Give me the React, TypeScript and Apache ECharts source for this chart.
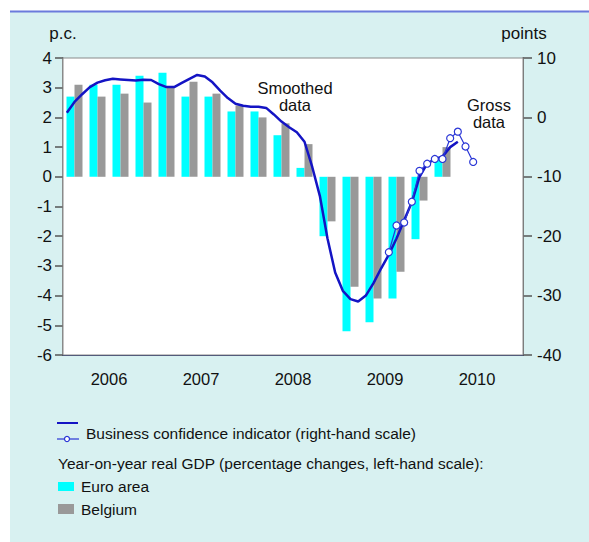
import React, { useEffect, useRef } from "react";
import * as echarts from "echarts";

const years = ["2006", "2007", "2008", "2009", "2010"];
const quarters = [
  "2006Q1", "2006Q2", "2006Q3", "2006Q4",
  "2007Q1", "2007Q2", "2007Q3", "2007Q4",
  "2008Q1", "2008Q2", "2008Q3", "2008Q4",
  "2009Q1", "2009Q2", "2009Q3", "2009Q4",
  "2010Q1", "2010Q2", "2010Q3", "2010Q4",
];
const euroArea = [2.7, 3.1, 3.1, 3.4, 3.5, 2.7, 2.7, 2.2, 2.2, 1.4, 0.3, -2.0, -5.2, -4.9, -4.1, -2.1, 0.6, null, null, null];
const belgium = [3.1, 2.7, 2.8, 2.5, 3.0, 3.2, 2.8, 2.4, 2.0, 1.8, 1.1, -1.5, -3.7, -4.1, -3.2, -0.8, 1.0, null, null, null];

const months: string[] = [];
for (const y of years) for (let m = 1; m <= 12; m++) months.push(y + "-" + String(m).padStart(2, "0"));

// Smoothed business confidence, Jan 2006 .. Apr 2010
const smoothed = [
  0.8, 2.6, 3.9, 5.1, 5.85, 6.25, 6.5, 6.4, 6.3, 6.2, 6.35, 6.3,
  5.6, 5.1, 5.1, 5.8, 6.5, 7.15, 6.9, 5.9, 4.5, 3.25, 2.3, 1.95,
  1.8, 1.8, 1.6, 0.5, -0.7, -1.65, -2.5, -4.1, -8.3, -13.2, -20.4, -26.1,
  -29.2, -30.6, -31.0, -30.0, -27.9, -25.4, -23.1, -20.4, -17.3, -14.3, -10.0, -7.8,
  -7.0, -6.6, -5.0, -4.1,
];
// Gross business confidence, Jul 2009 .. Jun 2010
const grossStart = 42;
const gross = [-22.7, -18.2, -17.7, -14.2, -9.0, -7.8, -7.0, -7.0, -3.5, -2.4, -4.9, -7.5];

const FONT = "'Liberation Sans', Arial, sans-serif";
const TXT = "#111";

export default function App() {
  const ref = useRef<HTMLDivElement>(null);
  useEffect(() => {
    if (!ref.current) return;
    const chart = echarts.init(ref.current, null, { renderer: "svg" });
    const smoothData = months.map((_, i) => (i < smoothed.length ? smoothed[i] : null));
    const grossData = months.map((_, i) =>
      i >= grossStart && i < grossStart + gross.length ? gross[i - grossStart] : null
    );
    const gl = 63, gr = 523, gt = 58, gb = 355;
    chart.setOption({
      animation: false,
      textStyle: { fontFamily: FONT },
      grid: {
        left: gl, right: 589 - gr, top: gt, bottom: 542 - gb,
        show: true, backgroundColor: "#ffffff", borderColor: "#8a8a8a", borderWidth: 1, z: 1,
      },
      xAxis: [
        {
          type: "category", data: years, position: "bottom", boundaryGap: true,
          axisLine: { onZero: false, lineStyle: { color: "#1c2a6a", width: 2 } },
          axisTick: { show: false },
          axisLabel: { color: TXT, fontSize: 16.5, margin: 15, fontFamily: FONT },
          splitLine: { show: true, lineStyle: { color: "#b0b0b0", width: 1.5 } },
        },
        {
          type: "category", data: quarters, position: "bottom",
          axisLine: { onZero: true, onZeroAxisIndex: 0, lineStyle: { color: "#5a5a5a", width: 1.5 } },
          axisTick: { show: false }, axisLabel: { show: false }, splitLine: { show: false },
        },
        {
          type: "category", data: months, show: false, boundaryGap: true,
        },
      ],
      yAxis: [
        {
          type: "value", min: -6, max: 4, interval: 1, position: "left",
          axisLine: { show: true, lineStyle: { color: "#777", width: 1.5 } },
          axisTick: { show: true, length: 8, inside: false, lineStyle: { color: "#555", width: 1.5 } },
          axisLabel: { color: TXT, fontSize: 17, margin: 11, fontFamily: FONT },
          splitLine: { show: false },
          name: "p.c.", nameLocation: "end", nameGap: 16,
          nameTextStyle: { color: TXT, fontSize: 17, align: "center", padding: [0, 0, 0, 0], fontFamily: FONT },
        },
        {
          type: "value", min: -40, max: 10, interval: 10, position: "right",
          axisLine: { show: true, lineStyle: { color: "#555", width: 1.5 } },
          axisTick: { show: true, length: 9, inside: false, lineStyle: { color: "#555", width: 1.5 } },
          axisLabel: { color: TXT, fontSize: 17, margin: 14, fontFamily: FONT },
          splitLine: { show: false },
          name: "points", nameLocation: "end", nameGap: 16,
          nameTextStyle: { color: TXT, fontSize: 17, align: "center", padding: [0, 0, 0, 2], fontFamily: FONT },
        },
      ],
      series: [
        {
          type: "bar", name: "Euro area", data: euroArea, xAxisIndex: 1, yAxisIndex: 0,
          barWidth: 8, barGap: "0%", itemStyle: { color: "#00ffff" }, z: 2,
        },
        {
          type: "bar", name: "Belgium", data: belgium, xAxisIndex: 1, yAxisIndex: 0,
          barWidth: 8, barGap: "0%", itemStyle: { color: "#999999" }, z: 2,
        },
        {
          type: "line", name: "Smoothed", data: smoothData, xAxisIndex: 2, yAxisIndex: 1,
          showSymbol: false, symbol: "none", connectNulls: false,
          lineStyle: { color: "#1414c4", width: 2.5 }, z: 4,
        },
        {
          type: "line", name: "Gross", data: grossData, xAxisIndex: 2, yAxisIndex: 1,
          symbol: "circle", symbolSize: 7, showSymbol: true, showAllSymbol: true,
          itemStyle: { color: "#ffffff", borderColor: "#2a36d6", borderWidth: 1.2 },
          lineStyle: { color: "#2a36d6", width: 1.2 }, z: 5,
        },
      ],
      graphic: [
        { type: "rect", z: -10, silent: true, shape: { x: 10, y: 11, width: 579, height: 531 }, style: { fill: "#d8f1f1" } },
        { type: "line", z: -9, silent: true, shape: { x1: 10, y1: 11.5, x2: 589, y2: 11.5 }, style: { stroke: "#6b7bdc", lineWidth: 2 } },
        { type: "text", z: 10, x: 295, y: 96, style: { text: "Smoothed\ndata", fontSize: 16.5, lineHeight: 17, fill: TXT, align: "center", verticalAlign: "middle", fontFamily: FONT } },
        { type: "text", z: 10, x: 489, y: 113, style: { text: "Gross\ndata", fontSize: 16.5, lineHeight: 17, fill: TXT, align: "center", verticalAlign: "middle", fontFamily: FONT } },
        // legend
        { type: "line", shape: { x1: 57, y1: 423, x2: 78, y2: 423 }, style: { stroke: "#1414c4", lineWidth: 2 } },
        { type: "line", shape: { x1: 57, y1: 439, x2: 79, y2: 439 }, style: { stroke: "#2a36d6", lineWidth: 1.2 } },
        { type: "circle", shape: { cx: 67, cy: 439, r: 2.5 }, style: { fill: "#fff", stroke: "#2a36d6", lineWidth: 1.2 } },
        { type: "text", x: 86, y: 433, style: { text: "Business confidence indicator (right-hand scale)", fontSize: 15.5, fill: TXT, verticalAlign: "middle", fontFamily: FONT } },
        { type: "text", x: 58, y: 463, style: { text: "Year-on-year real GDP (percentage changes, left-hand scale):", fontSize: 15.5, fill: TXT, verticalAlign: "middle", fontFamily: FONT } },
        { type: "rect", shape: { x: 58, y: 482, width: 16, height: 9 }, style: { fill: "#00ffff" } },
        { type: "text", x: 81, y: 486.5, style: { text: "Euro area", fontSize: 15.5, fill: TXT, verticalAlign: "middle", fontFamily: FONT } },
        { type: "rect", shape: { x: 58, y: 504, width: 16, height: 10 }, style: { fill: "#999999" } },
        { type: "text", x: 81, y: 509.5, style: { text: "Belgium", fontSize: 15.5, fill: TXT, verticalAlign: "middle", fontFamily: FONT } },
      ],
    });
    return () => chart.dispose();
  }, []);
  return (
    <div
      ref={ref}
      style={{ position: "absolute", left: 0, top: 0, width: 589, height: 542, background: "#ffffff" }}
    />
  );
}
